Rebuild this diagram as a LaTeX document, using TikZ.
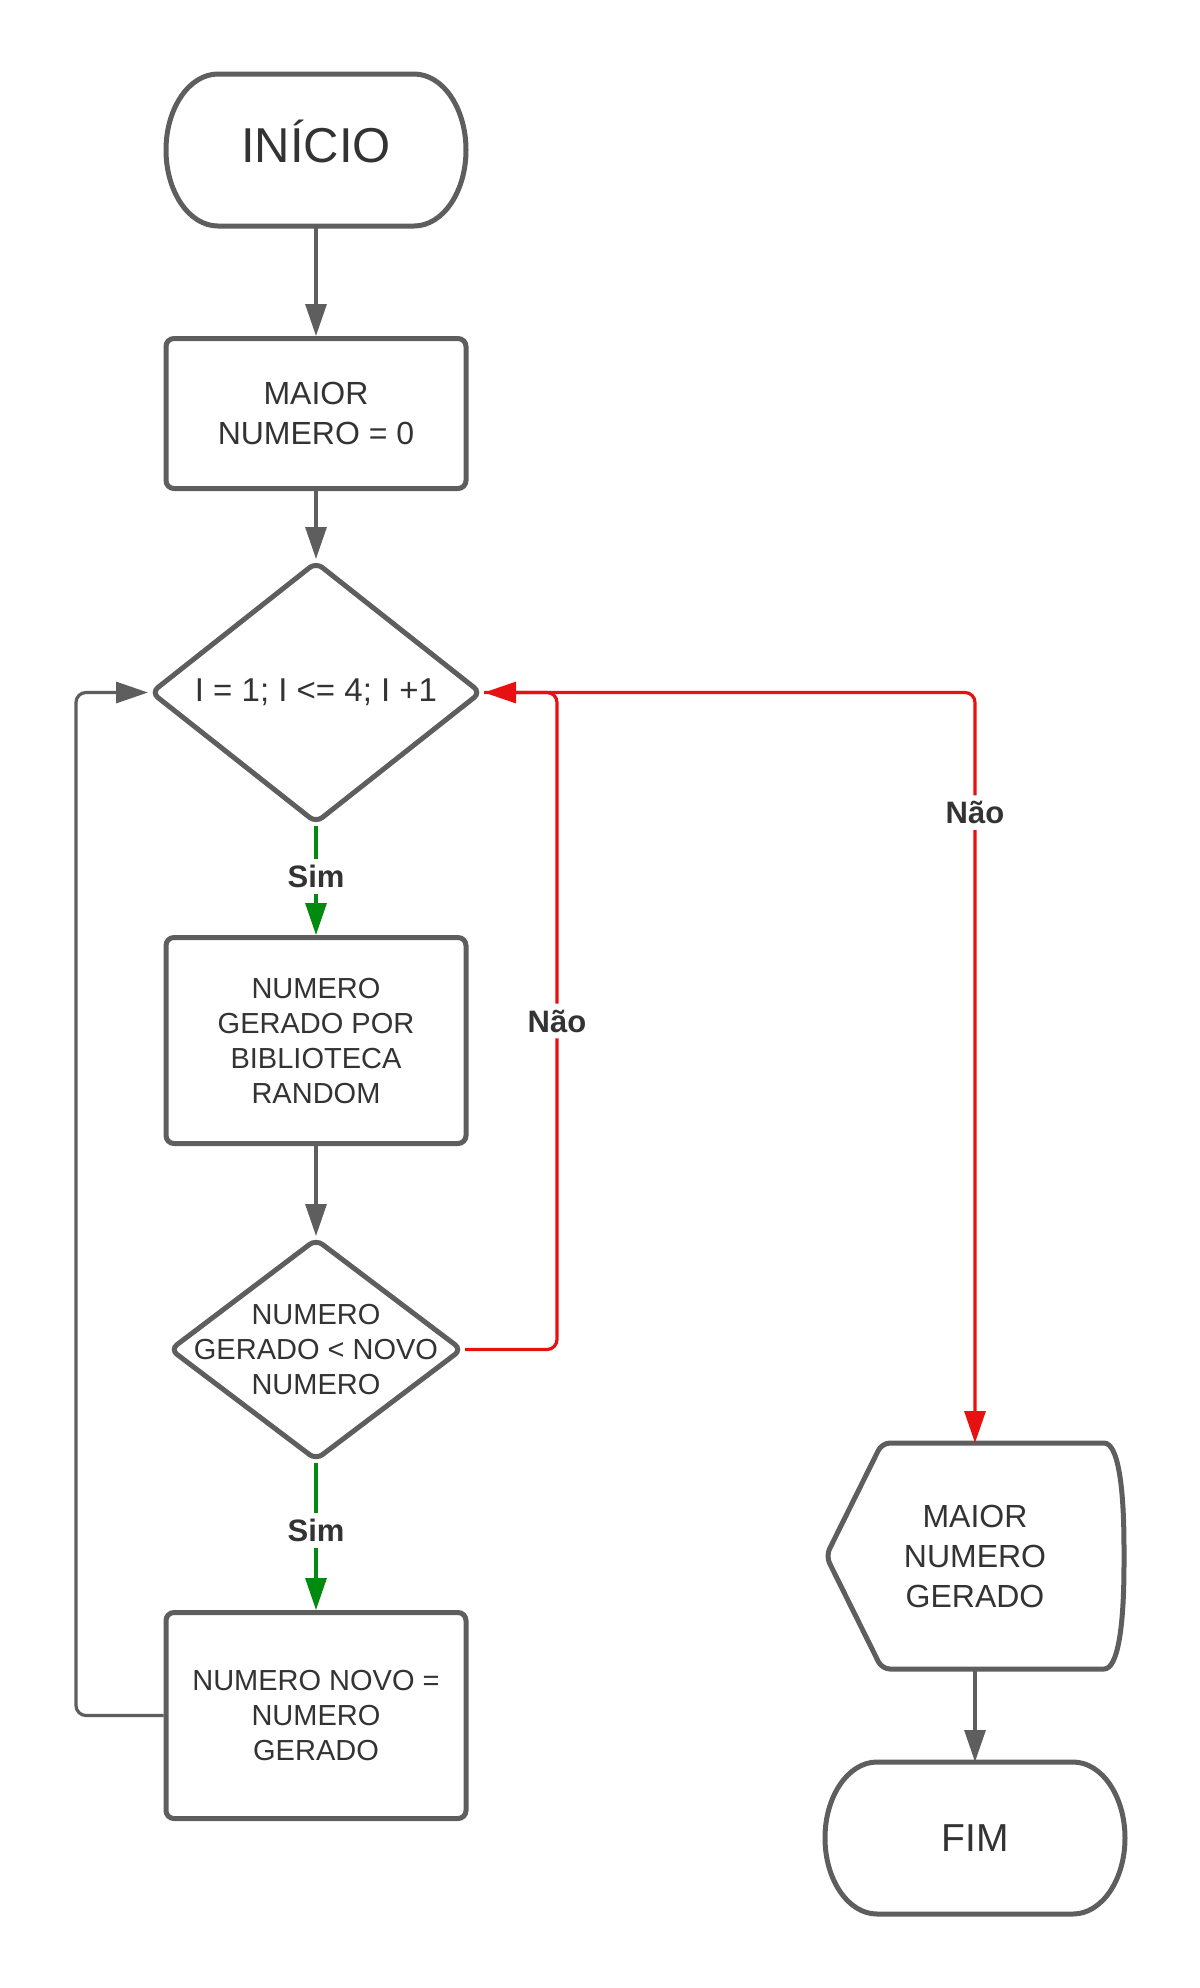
\documentclass[tikz,border=0pt]{standalone}
\usepackage{fontspec}
\setmainfont{Liberation Sans}
\usepackage{xcolor}
\usetikzlibrary{shapes.geometric,arrows.meta,positioning}
\definecolor{lineg}{RGB}{94,94,94}
\definecolor{textg}{RGB}{51,51,51}
\definecolor{nored}{RGB}{232,17,17}
\definecolor{simgreen}{RGB}{0,138,14}

% outline of a start/end terminal, elliptic ends
\newcommand{\termoutline}[1]{%
  \draw[line width=2.5pt, draw=lineg]
    ([xshift=26pt]#1.north west) -- ([xshift=-26pt]#1.north east)
    arc[start angle=90, end angle=-90, x radius=26pt, y radius=38pt]
    -- ([xshift=26pt]#1.south west)
    arc[start angle=270, end angle=90, x radius=26pt, y radius=38pt] -- cycle;}

\begin{document}
\begin{tikzpicture}[x=1pt, y=1pt,
  term/.style={rectangle, outer sep=0pt, minimum width=150pt, minimum height=76pt,
               text=textg, font=\fontsize{24.5}{29}\selectfont},
  procbox/.style={rectangle, draw=lineg, line width=2.5pt, rounded corners=4pt,
                  minimum width=150pt, minimum height=#1, align=center,
                  text=textg, font=\fontsize{14.5}{17.5}\selectfont},
  decide/.style={diamond, draw=lineg, line width=2.5pt, rounded corners=4pt,
                 aspect=1.28, inner sep=0pt, align=center, text=textg},
  fwd/.style={-{Triangle[length=16pt,width=10.5pt]}, draw=lineg, line width=1.6pt},
  lbl/.style={fill=white, inner sep=3pt, text=textg,
              font=\bfseries\fontsize{15.5}{18}\selectfont}
]
  \useasboundingbox (0,0) rectangle (600,-994);

  % main column
  \node[term, text height=22pt, text depth=10pt] (start) at (158,-75) {INÍCIO};
  \termoutline{start}
  \node[procbox=75pt, below=55pt of start, font=\fontsize{16}{20}\selectfont] (init) {MAIOR\\NUMERO = 0};
  \node[decide, minimum width=165.5pt, minimum height=131pt, below=34pt of init,
        font=\fontsize{16.5}{20}\selectfont] (loop) {I = 1; I <= 4; I +1};
  \node[procbox=103pt, below=54.5pt of loop] (rand) {NUMERO\\GERADO POR\\BIBLIOTECA\\RANDOM};
  \node[decide, minimum width=146.5pt, minimum height=111pt, below=45pt of rand,
        label={[text=textg, align=center, font=\fontsize{14.5}{17.5}\selectfont]center:NUMERO\\GERADO < NOVO\\NUMERO}] (cmp) {};
  \node[procbox=103pt, below=73.5pt of cmp] (upd) {NUMERO NOVO =\\NUMERO\\GERADO};

  % right column
  \node[rectangle, outer sep=0pt, minimum width=149pt, minimum height=113pt, align=center,
        text=textg, font=\fontsize{16}{20}\selectfont] (show) at (487.5,-778) {MAIOR\\NUMERO\\GERADO};
  \draw[line width=2.5pt, draw=lineg, rounded corners=4pt]
    (show.west) -- ([xshift=28pt]show.north west) -- ([xshift=-14pt]show.north east)
    .. controls ([xshift=-3pt]show.north east) and ([yshift=35pt]show.east) .. (show.east)
    .. controls ([yshift=-35pt]show.east) and ([xshift=-3pt]show.south east) .. ([xshift=-14pt]show.south east)
    -- ([xshift=28pt]show.south west) -- cycle;
  \node[term, below=46.5pt of show, font=\fontsize{19.5}{24}\selectfont] (fim) {FIM};
  \termoutline{fim}

  \coordinate (back) at ([xshift=-36pt]loop.west);
  \coordinate (join) at ([xshift=36.5pt]loop.east);

  \draw[fwd] (start.south) -- (init.north);
  \draw[fwd] (init.south) -- (loop.north);
  \draw[fwd, draw=simgreen] (loop.south) -- node[lbl, pos=0.46] {Sim} (rand.north);
  \draw[fwd] (rand.south) -- (cmp.north);
  \draw[fwd, draw=simgreen] (cmp.south) -- node[lbl, pos=0.46] {Sim} (upd.north);
  \draw[fwd, rounded corners=5pt] (upd.west) -| (back) -- (loop.west);
  \draw[fwd, draw=nored, rounded corners=5pt] (cmp.east) -| node[lbl, pos=0.75] {Não} (join) -- (loop.east);
  \draw[fwd, draw=nored, rounded corners=5pt] (loop.east) -| node[lbl, pos=0.58] {Não} (show.north);
  \draw[fwd] (show.south) -- (fim.north);
\end{tikzpicture}
\end{document}
